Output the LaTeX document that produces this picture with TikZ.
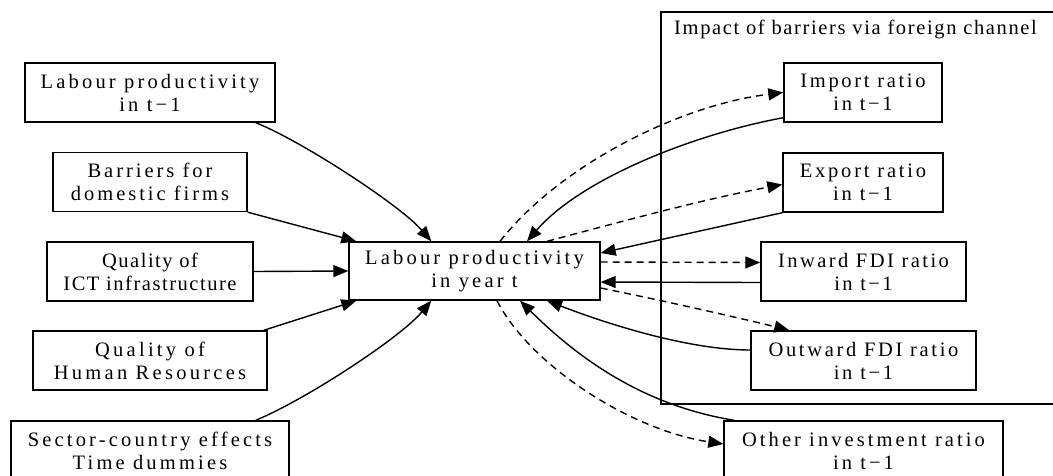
\documentclass[tikz,border=0pt]{standalone}
\usepackage{fontspec}
\setmainfont{Liberation Serif}
\usetikzlibrary{arrows.meta}
\begin{document}
\begin{tikzpicture}[x=1pt,y=-1pt,
  box/.style={draw, line width=1.4pt, rectangle, inner sep=0pt, align=center,
    minimum height=59pt,
    font=\fontsize{20.5}{23}\selectfont\addfontfeatures{LetterSpace=#1}},
  box/.default=15,
  edge/.style={line width=1.4pt, -{Triangle[length=15pt,width=12pt]}},
  dedge/.style={edge, dash pattern=on 7pt off 5pt},
  clusterlabel/.style={anchor=base west, inner sep=0pt,
    font=\fontsize{20.5}{23}\selectfont\addfontfeatures{LetterSpace=8}}]
\useasboundingbox (0,0) rectangle (1053,475);

% cluster
\draw[line width=1.4pt] (661,12) rectangle (1070,404);
\node[clusterlabel] (cllab) at (674,34) {Impact of barriers via foreign channel};

% left nodes
\node[box=15.5, minimum width=250pt] (lp1) at (150,92.5) {Labour productivity\\in t−1};
\node[box=14.5, minimum width=194pt] (bar) at (150,182) {Barriers for\\domestic firms};
\node[box=7.5, minimum width=206pt] (ict) at (150,271.5) {Quality of\\ICT infrastructure};
\node[box=16, minimum width=234pt] (hr) at (150,360.5) {Quality of\\Human Resources};
\node[box=15.5, minimum width=278pt] (sec) at (150,450.5) {Sector-country effects\\Time dummies};

% center
\node[box=15.5, minimum width=251pt, minimum height=58pt] (c) at (474.5,271) {Labour productivity\\in year t};

% right nodes
\node[box=13, minimum width=158pt] (imp) at (863,92.5) {Import ratio\\in t−1};
\node[box=13.5, minimum width=160pt] (exp) at (863,182.5) {Export ratio\\in t−1};
\node[box=12, minimum width=205pt] (inw) at (863.5,271.5) {Inward FDI ratio\\in t−1};
\node[box=13, minimum width=225pt] (outw) at (863.5,360.5) {Outward FDI ratio\\in t−1};
\node[box=15, minimum width=279pt] (oth) at (863.5,450.5) {Other investment ratio\\in t−1};

% left edges
\draw[edge] ([xshift=-20pt]lp1.south east) .. controls (300,140) and (400,205) .. ([xshift=83pt]c.north west);
\draw[edge] (bar.south east) -- ([xshift=8pt]c.north west);
\draw[edge] (ict.east) -- (c.west);
\draw[edge] ([xshift=-4pt]hr.north east) -- ([xshift=8pt]c.south west);
\draw[edge] ([xshift=-34pt]sec.north east) .. controls (305,400) and (400,338) .. ([xshift=83pt]c.south west);

% right edges
\draw[dedge] ([xshift=25.5pt]c.north) .. controls (560,165) and (680,105) .. (imp.west);
\draw[edge] ([yshift=5pt]imp.south west) .. controls (690,135) and (580,180) .. ([xshift=52.5pt]c.north);
\draw[dedge] ([xshift=72.5pt]c.north) .. controls (620,222) and (700,200) .. ([yshift=-2pt]exp.west);
\draw[edge] (exp.south west) -- ([yshift=18pt]c.east);
\draw[dedge] ([yshift=9pt]c.east) -- ([yshift=9pt]inw.west);
\draw[edge] ([yshift=-11pt]inw.west) -- ([yshift=-11pt]c.east);
\draw[dedge] ([yshift=-17pt]c.east) .. controls (660,300) and (740,318) .. ([xshift=39pt]outw.north west);
\draw[edge] ([yshift=10.5pt]outw.west) .. controls (690,350) and (610,325) .. ([xshift=72.5pt]c.south);
\draw[dedge] ([xshift=22.5pt]c.south) .. controls (530,365) and (630,430) .. ([yshift=6.5pt]oth.west);
\draw[edge] ([xshift=11pt]oth.north west) .. controls (640,405) and (575,355) .. ([xshift=45.5pt]c.south);
\end{tikzpicture}
\end{document}
